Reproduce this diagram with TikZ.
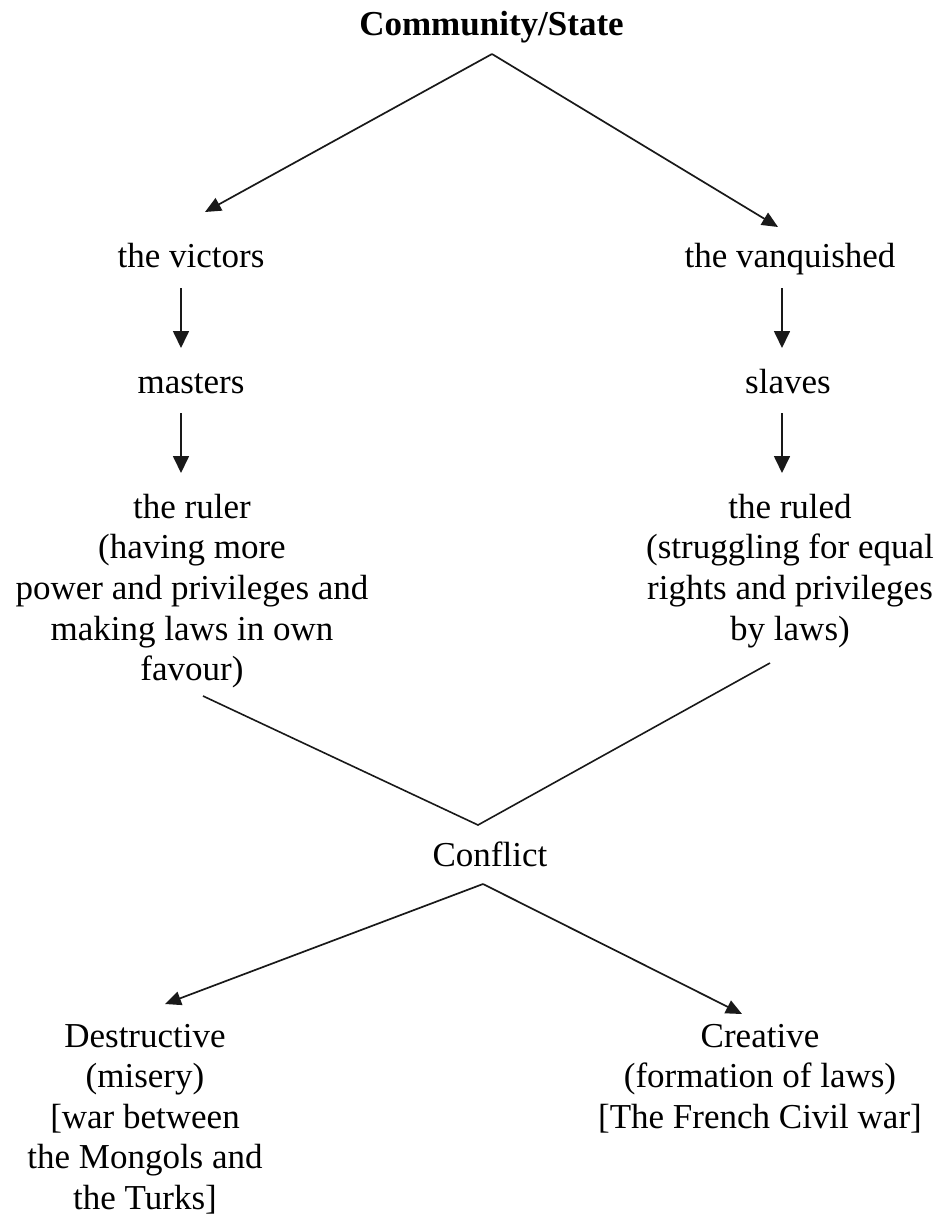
\documentclass[tikz,border=0pt]{standalone}
\usepackage{fontspec}
\setmainfont{Liberation Serif}
\usetikzlibrary{arrows.meta}
\tikzset{
  txt/.style={inner sep=0pt, outer sep=0pt, text=black, font=\fontsize{35}{40.6}\selectfont},
  blk/.style={txt, align=center, anchor=north},
  arr/.style={draw=black!90, line width=1.7pt, -{Triangle[length=16pt,width=14pt]}},
  varr/.style={draw=black!90, line width=1.7pt, -{Triangle[length=17pt,width=16pt]}},
  ln/.style={draw=black!90, line width=1.6pt}
}
\begin{document}
\begin{tikzpicture}[x=1pt,y=-1pt]
\fill[white] (0,0) rectangle (940,1216);
\useasboundingbox (0,0) rectangle (940,1216);
\node[txt, anchor=base, font=\fontsize{35}{40.6}\selectfont\bfseries] (cs) at (491.5,35) {Community/State};
\node[txt, anchor=base] (vic) at (191,267) {the victors};
\node[txt, anchor=base] (van) at (790,267) {the vanquished};
\node[txt, anchor=base] (mas) at (191,393) {masters};
\node[txt, anchor=base] (sla) at (788,393) {slaves};
\node[blk] (rul) at (192,494) {the ruler\\(having more\\power and privileges and\\making laws in own\\favour)};
\node[blk] (rld) at (790,494) {the ruled\\(struggling for equal\\rights and privileges\\by laws)};
\node[txt, anchor=base] (con) at (490,866) {Conflict};
\node[blk] (des) at (145,1024) {Destructive\\(misery)\\{[}war between\\the Mongols and\\the Turks{]}};
\node[blk] (cre) at (760,1024) {Creative\\(formation of laws)\\{[}The French Civil war{]}};

% top fork
\draw[arr] ([xshift=0.5pt,yshift=-19pt]cs.base) -- ([xshift=14pt,yshift=55pt]vic.base);
\draw[arr] ([xshift=0.5pt,yshift=-19pt]cs.base) -- ([xshift=-12pt,yshift=40pt]van.base);
% left column
\draw[varr] ([xshift=-10pt,yshift=-21pt]vic.base) -- ([xshift=-10pt,yshift=45pt]mas.base);
\draw[varr] ([xshift=-10pt,yshift=-20pt]mas.base) -- ([xshift=-11pt,yshift=21pt]rul.north);
% right column
\draw[varr] ([xshift=-8pt,yshift=-21pt]van.base) -- ([xshift=-6pt,yshift=45pt]sla.base);
\draw[varr] ([xshift=-6pt,yshift=-20pt]sla.base) -- ([xshift=-8pt,yshift=21pt]rld.north);
% join into conflict
\draw[ln] ([xshift=11pt,yshift=-202pt]rul.north) -- ([xshift=-12pt,yshift=41pt]con.base) -- ([xshift=-20pt,yshift=-169pt]rld.north);
% bottom fork
\draw[arr] ([xshift=-7pt,yshift=-18pt]con.base) -- ([xshift=20pt,yshift=20pt]des.north);
\draw[arr] ([xshift=-7pt,yshift=-18pt]con.base) -- ([xshift=-18pt,yshift=10pt]cre.north);
\end{tikzpicture}
\end{document}
